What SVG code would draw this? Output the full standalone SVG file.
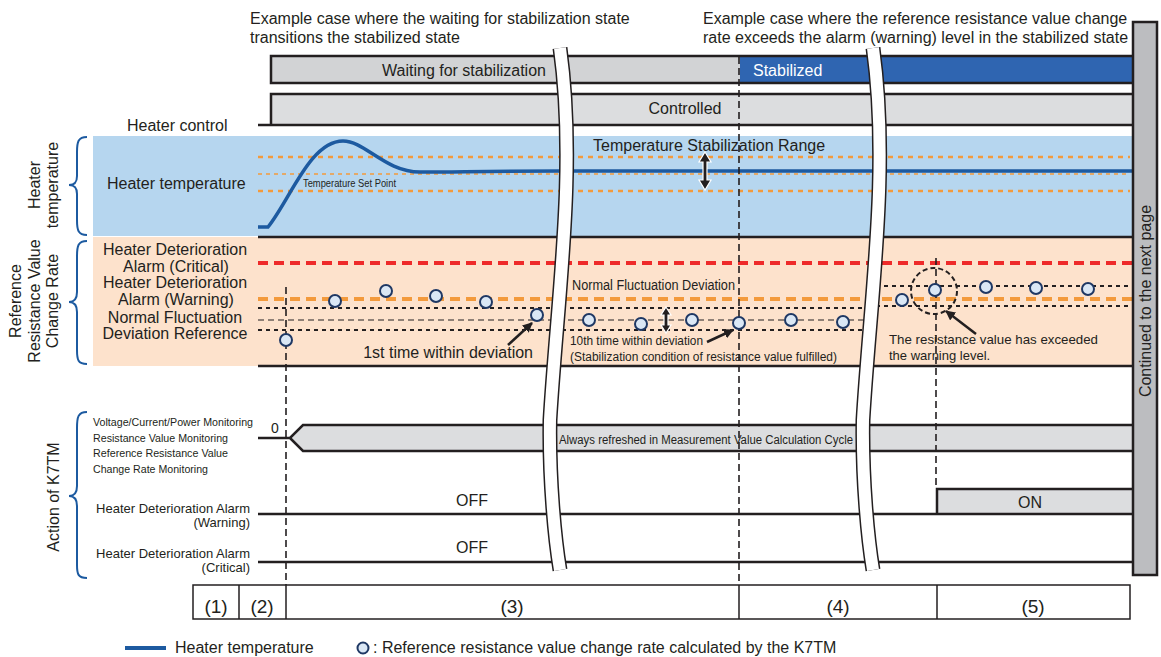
<svg xmlns="http://www.w3.org/2000/svg" width="1161" height="657" viewBox="0 0 1161 657">
<style>
text{font-family:"Liberation Sans",Arial,sans-serif;fill:#231f20;font-size:16px}
.c{text-anchor:middle}
.e{text-anchor:end}
.blk{stroke:#231f20;stroke-width:2.5;fill:none}
.thin{stroke:#231f20;stroke-width:1.5;fill:none}
.vdash{stroke:#231f20;stroke-width:1.6;stroke-dasharray:7 4;fill:none}
.odot{stroke:#f39a3c;stroke-width:2.5;stroke-dasharray:5 5;fill:none}
.odash{stroke:#f39a3c;stroke-width:4;stroke-dasharray:10 6;fill:none}
.rdash{stroke:#ee2a2a;stroke-width:4;stroke-dasharray:10 6;fill:none}
.kdot{stroke:#231f20;stroke-width:2.2;stroke-dasharray:4 4;fill:none}
.kdash{stroke:#231f20;stroke-width:1.2;stroke-dasharray:6 4;fill:none}
.pt{fill:#dae7f5;stroke:#1f3864;stroke-width:2}
.brace{stroke:#1c5aa0;stroke-width:2;fill:none}
.brk1{stroke:#231f20;stroke-width:15;fill:none}
.brk2{stroke:#fff;stroke-width:12;fill:none}
.arr{stroke:#231f20;stroke-width:2.5;fill:none;marker-end:url(#ah)}
.sm{font-size:12px}
.xs{font-size:11px}
.md{font-size:13px}
</style>
<defs>
<marker id="ah" viewBox="0 0 10 10" refX="9" refY="5" markerWidth="4" markerHeight="4" orient="auto" markerUnits="strokeWidth">
<path d="M0,0 L10,5 L0,10 z" fill="#231f20"/>
</marker>
<path id="brkpath" d="M560,48 C577,170 557,300 550,420 C549,480 555,540 560,570"/>
</defs>
<rect width="1161" height="657" fill="#fff"/>

<g id="bands">
<rect x="93" y="136" width="1040" height="100" fill="#b6d6ef"/>
<rect x="93" y="237" width="1040" height="129" fill="#fde2cc"/>
<path class="odot" d="M258,157 L1130,157"/>
<path d="M258,174 L1130,174" stroke="#f39a3c" stroke-width="1.3" stroke-dasharray="4 4" fill="none"/>
<path class="odot" d="M258,191 L1130,191"/>
<path class="blk" d="M258,237 L1133,237 M258,366 L1133,366"/>
</g>

<g id="heater-curve">
<path d="M258,227 L268,227 C290,200 310,141 343,141 C365,141 385,172 420,172 C460,172 480,171 560,171 L1133,171" stroke="#1d5aa0" stroke-width="3.5" fill="none"/>
</g>

<g id="state-bars">
<rect x="271" y="56" width="469" height="27" fill="#d2d3d5"/>
<rect x="740" y="56" width="393" height="27" fill="#2f65b1"/>
<path class="blk" d="M1133,56 L271,56 L271,83 L1133,83"/>
<rect x="271" y="94" width="862" height="31" fill="#dcdddf"/>
<path class="blk" d="M1133,94 L271,94 L271,125 M258,125 L1133,125"/>
</g>

<g id="ref-lines">
<path class="rdash" d="M258,263 L1133,263"/>
<path class="odash" d="M258,299 L1133,299"/>
<path class="kdot" d="M258,308 L872,308 M258,330 L872,330"/>
<path class="kdash" d="M258,320 L872,320"/>
<path class="kdot" d="M876,286 L1133,286 M876,306 L1133,306"/>
</g>

<g id="action-rows">
<path d="M290,438 L303,425 L1133,425 L1133,451 L303,451 z" fill="#dcdddf"/>
<path class="blk" d="M258,438 L290,438 L303,425 L1133,425 M290,438 L303,451 L1133,451"/>
<rect x="937" y="489" width="196" height="25" fill="#dcdddf"/>
<path class="blk" d="M258,514 L1133,514 M937,514 L937,489 L1133,489"/>
<path class="blk" d="M258,562 L1133,562"/>
</g>

<g id="connectors">
<path class="vdash" d="M286,287 L286,585"/>
<path class="vdash" d="M739,57 L739,585"/>
<path class="vdash" d="M936,258 L936,489"/>
<circle cx="934" cy="291" r="23" fill="none" stroke="#231f20" stroke-width="2" stroke-dasharray="5 3"/>
<path class="arr" d="M508,345 L532,323"/>
<path class="arr" d="M707,342 L733,330"/>
<path class="arr" d="M976,334 L946,311"/>
<path d="M705,152 L711,162 L707,162 L707,180 L711,180 L705,190 L699,180 L703,180 L703,162 L699,162 z" fill="#231f20" stroke="#fff" stroke-width="1.2"/>
<path d="M666,307 L671,315 L668,315 L668,325 L671,325 L666,333 L661,325 L664,325 L664,315 L661,315 z" fill="#231f20" stroke="#fff" stroke-width="1.2"/>
</g>

<g id="points">
<circle class="pt" cx="286" cy="340" r="6"/>
<circle class="pt" cx="335" cy="301" r="6"/>
<circle class="pt" cx="386" cy="291" r="6"/>
<circle class="pt" cx="436" cy="296" r="6"/>
<circle class="pt" cx="486" cy="302" r="6"/>
<circle class="pt" cx="537" cy="315" r="6"/>
<circle class="pt" cx="589" cy="320" r="6"/>
<circle class="pt" cx="641" cy="324" r="6"/>
<circle class="pt" cx="692" cy="320" r="6"/>
<circle class="pt" cx="739" cy="323" r="6"/>
<circle class="pt" cx="791" cy="320" r="6"/>
<circle class="pt" cx="843" cy="322" r="6"/>
<circle class="pt" cx="902" cy="300" r="6"/>
<circle class="pt" cx="935" cy="290" r="6"/>
<circle class="pt" cx="986" cy="287" r="6"/>
<circle class="pt" cx="1036" cy="288" r="6"/>
<circle class="pt" cx="1088" cy="289" r="6"/>
</g>

<g id="breaks">
<use href="#brkpath" class="brk1"/>
<use href="#brkpath" class="brk2"/>
<use href="#brkpath" class="brk1" transform="translate(313,0)"/>
<use href="#brkpath" class="brk2" transform="translate(313,0)"/>
</g>

<g id="continued">
<rect x="1133" y="22" width="24" height="553" fill="#bcbdc0" stroke="#231f20" stroke-width="2.5"/>
<text class="c" transform="translate(1151,301) rotate(-90)">Continued to the next page</text>
</g>

<g id="phase-boxes">
<rect x="193" y="585" width="937" height="34" fill="#fff" stroke="#231f20" stroke-width="1.5"/>
<path class="thin" d="M239,585 L239,619 M286,585 L286,619 M739,585 L739,619 M937,585 L937,619"/>
<text class="c" x="216" y="613" style="font-size:19px">(1)</text>
<text class="c" x="262" y="613" style="font-size:19px">(2)</text>
<text class="c" x="512" y="613" style="font-size:19px">(3)</text>
<text class="c" x="838" y="613" style="font-size:19px">(4)</text>
<text class="c" x="1033" y="613" style="font-size:19px">(5)</text>
</g>

<g id="braces">
<path class="brace" d="M87,137 C78,137 77,142 77,152 L77,176 C77,182 75,185 69,185 C75,185 77,188 77,194 L77,220 C77,230 78,235 87,235"/>
<path class="brace" d="M87,241 C78,241 77,246 77,256 L77,292 C77,298 75,302 69,302 C75,302 77,306 77,312 L77,350 C77,360 78,364 87,364"/>
<path class="brace" d="M87,412 C78,412 77,417 77,428 L77,486 C77,492 75,496 69,496 C75,496 77,500 77,506 L77,565 C77,574 78,578 87,578"/>
</g>

<g id="side-labels">
<text class="c" transform="translate(40,185) rotate(-90)">Heater</text>
<text class="c" transform="translate(58,185) rotate(-90)">temperature</text>
<text class="c" transform="translate(21,301) rotate(-90)">Reference</text>
<text class="c" transform="translate(40,301) rotate(-90)">Resistance Value</text>
<text class="c" transform="translate(58,301) rotate(-90)">Change Rate</text>
<text class="c" transform="translate(59,497) rotate(-90)">Action of K7TM</text>
</g>

<g id="labels">
<text x="250" y="24">Example case where the waiting for stabilization state</text>
<text x="250" y="43">transitions the stabilized state</text>
<text x="703" y="24">Example case where the reference resistance value change</text>
<text x="703" y="43">rate exceeds the alarm (warning) level in the stabilized state</text>
<text class="c" x="464" y="76">Waiting for stabilization</text>
<text x="753" y="76" style="fill:#fff">Stabilized</text>
<text class="c" x="685" y="114">Controlled</text>
<text x="127" y="131">Heater control</text>
<text x="107" y="189">Heater temperature</text>
<text x="303" y="187" style="font-size:11px" textLength="93" lengthAdjust="spacingAndGlyphs">Temperature Set Point</text>
<text x="593" y="151">Temperature Stabilization Range</text>
<text class="c" x="175" y="255">Heater Deterioration</text>
<text class="c" x="176" y="272">Alarm (Critical)</text>
<text class="c" x="175" y="288">Heater Deterioration</text>
<text class="c" x="176" y="305">Alarm (Warning)</text>
<text class="c" x="175" y="323">Normal Fluctuation</text>
<text class="c" x="175" y="339">Deviation Reference</text>
<text x="572" y="290" style="font-size:14px" textLength="163" lengthAdjust="spacingAndGlyphs">Normal Fluctuation Deviation</text>
<text class="e" x="533" y="358">1st time within deviation</text>
<text x="570" y="345" class="md" textLength="133" lengthAdjust="spacingAndGlyphs">10th time within deviation</text>
<text x="570" y="361" class="sm" textLength="267" lengthAdjust="spacingAndGlyphs">(Stabilization condition of resistance value fulfilled)</text>
<text x="889" y="344" class="md" textLength="209" lengthAdjust="spacingAndGlyphs">The resistance value has exceeded</text>
<text x="889" y="360" class="md">the warning level.</text>
<text x="93" y="426" class="xs" textLength="160" lengthAdjust="spacingAndGlyphs">Voltage/Current/Power Monitoring</text>
<text x="93" y="442" class="xs" textLength="135" lengthAdjust="spacingAndGlyphs">Resistance Value Monitoring</text>
<text x="93" y="457" class="xs" textLength="135" lengthAdjust="spacingAndGlyphs">Reference Resistance Value</text>
<text x="93" y="473" class="xs" textLength="115" lengthAdjust="spacingAndGlyphs">Change Rate Monitoring</text>
<text class="c" x="275" y="433" style="font-size:14px">0</text>
<text x="559" y="444" class="sm" textLength="294" lengthAdjust="spacingAndGlyphs">Always refreshed in Measurement Value Calculation Cycle</text>
<text class="c" x="472" y="506">OFF</text>
<text class="c" x="472" y="553">OFF</text>
<text class="c" x="1030" y="508">ON</text>
<text class="e md" x="250" y="513">Heater Deterioration Alarm</text>
<text class="e md" x="250" y="527">(Warning)</text>
<text class="e md" x="250" y="558">Heater Deterioration Alarm</text>
<text class="e md" x="250" y="572">(Critical)</text>
</g>

<g id="legend">
<path d="M125,648 L166,648" stroke="#1d5aa0" stroke-width="4" fill="none"/>
<text x="175" y="653">Heater temperature</text>
<circle class="pt" cx="363" cy="648" r="5.5"/>
<text x="373" y="653">: Reference resistance value change rate calculated by the K7TM</text>
</g>
</svg>
